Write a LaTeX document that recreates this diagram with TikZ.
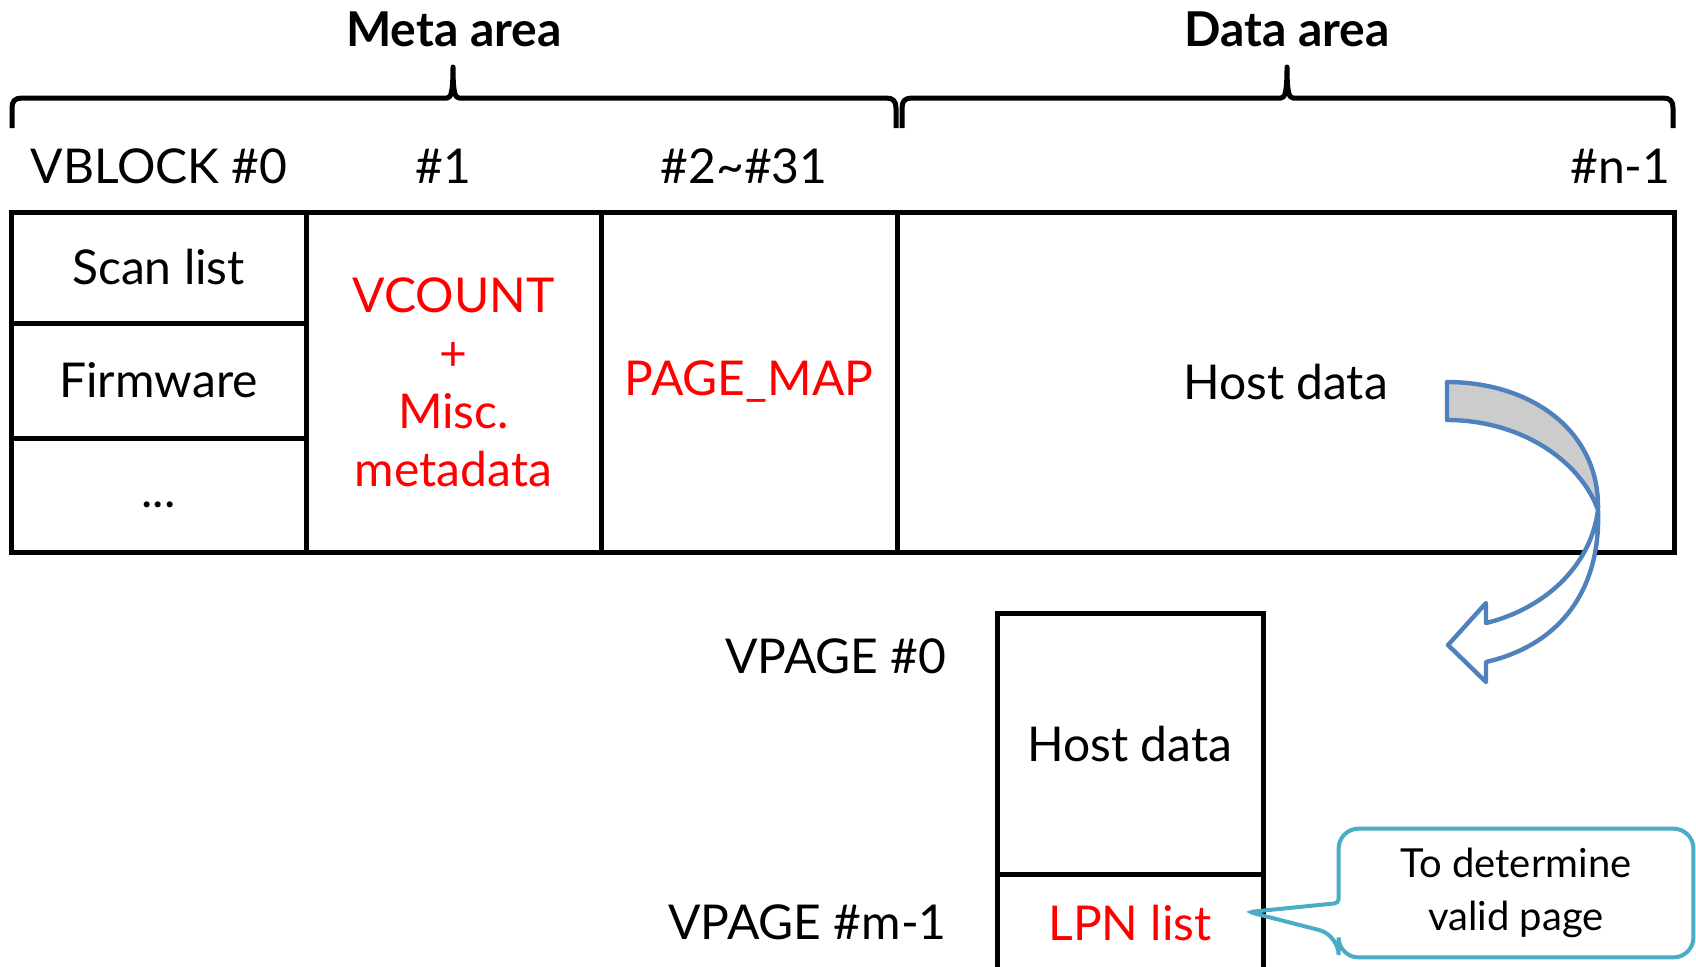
\documentclass[tikz,border=0pt]{standalone}
\usepackage{fontspec}
\setmainfont{Lato}
\definecolor{ArrowBlue}{RGB}{79,129,189}
\definecolor{NoteBlue}{RGB}{75,172,198}
\definecolor{BackGrey}{RGB}{204,204,204}

\begin{document}
\begin{tikzpicture}[x=0.5pt,y=-0.5pt,
      cell/.style={draw,line width=2.5pt,outer sep=0pt,inner sep=0pt,anchor=north west,
                   align=center,font=\fontsize{24}{29}\selectfont},
      lbl/.style={inner sep=0pt,font=\fontsize{24}{29}\selectfont},
      head/.style={font=\fontsize{24}{29}\selectfont\bfseries},
      brc/.style={line width=2.5pt,line join=round},
      twist/.style={draw=ArrowBlue,line width=2.2pt,line join=round}]
    \useasboundingbox (0,0) rectangle (1696,966);
    \clip (0,0) rectangle (1696,966);
    % VBLOCK row
    \node[cell,minimum width=147.5pt,minimum height=55.5pt] (scan) at (11,212) {Scan list};
    \node[cell,minimum width=147.5pt,minimum height=57.5pt] (firm) at (11,323) {Firmware};
    \node[cell,minimum width=147.5pt,minimum height=57pt] (dots) at (11,438) {\vphantom{Ag}...};
    \node[cell,minimum width=147.5pt,minimum height=170pt,text=red] (vcount) at (306,212) {VCOUNT\\+\\Misc.\\metadata};
    \node[cell,minimum width=148pt,minimum height=170pt,text=red] (pagemap) at (601,212) {PAGE\_MAP};
    \node[cell,minimum width=388.5pt,minimum height=170pt] (host) at (897,212) {Host data};
    \node[lbl] (b0) at (159,166) {VBLOCK \#0};
    \node[lbl] (b1) at (443,166) {\#1};
    \node[lbl] (b2) at (744,166) {\#2\textasciitilde\#31};
    \node[lbl,anchor=east] (bn) at (1671,166) {\#n-1};
    % areas
    \foreach \a/\m/\b in {12/453/896,902/1287/1673}
      \draw[brc] (\a,128) -- (\a,108) .. controls (\a,101) and (\a+3,98) .. (\a+10,98)
        -- (\m-6,98) .. controls (\m-2,98) and (\m,92) .. (\m,67)
        .. controls (\m,92) and (\m+2,98) .. (\m+6,98)
        -- (\b-10,98) .. controls (\b-3,98) and (\b,101) .. (\b,108) -- (\b,128);
    \node[head] (meta) at (454,29) {Meta area};
    \node[head] (data) at (1287,29) {Data area};
    % VPAGE column
    \node[cell,minimum width=133pt,minimum height=130.5pt] (page0) at (997,613) {Host data};
    \node[cell,minimum width=133pt,minimum height=49pt,text=red] (lpn) at (997,874) {LPN list};
    \node[lbl,anchor=east] (vp0) at (947,656) {VPAGE \#0};
    \node[lbl,anchor=east] (vpm) at (947,922) {VPAGE \#m-1};
    % callout
    \node[font=\fontsize{20}{26.5}\selectfont,align=center,minimum width=177pt,minimum height=64pt,
          inner sep=0pt] (note) at (1516,893) {To determine\\valid page};
    \coordinate (tip) at (1249,912);
    \draw[NoteBlue,line width=2pt,rounded corners=10pt] ([yshift=-5pt]note.west) -- (note.north west)
      -- (note.north east) -- (note.south east) -- (note.south west) -- ([yshift=-21pt]note.west)
      [rounded corners=2pt] -- (tip) -- cycle;
    % curved arrow
    \draw[twist,fill=BackGrey] (1447,382) .. controls (1530,382) and (1600,430) .. (1598,510)
      .. controls (1580,460) and (1520,420) .. (1447,420) -- cycle;
    \draw[twist,fill=white] (1598,510) .. controls (1601,590) and (1560,645) .. (1486,662)
      -- (1486,682) -- (1448,645) -- (1486,603) -- (1486,623)
      .. controls (1540,610) and (1590,570) .. (1598,510) -- cycle;
\end{tikzpicture}
\end{document}
